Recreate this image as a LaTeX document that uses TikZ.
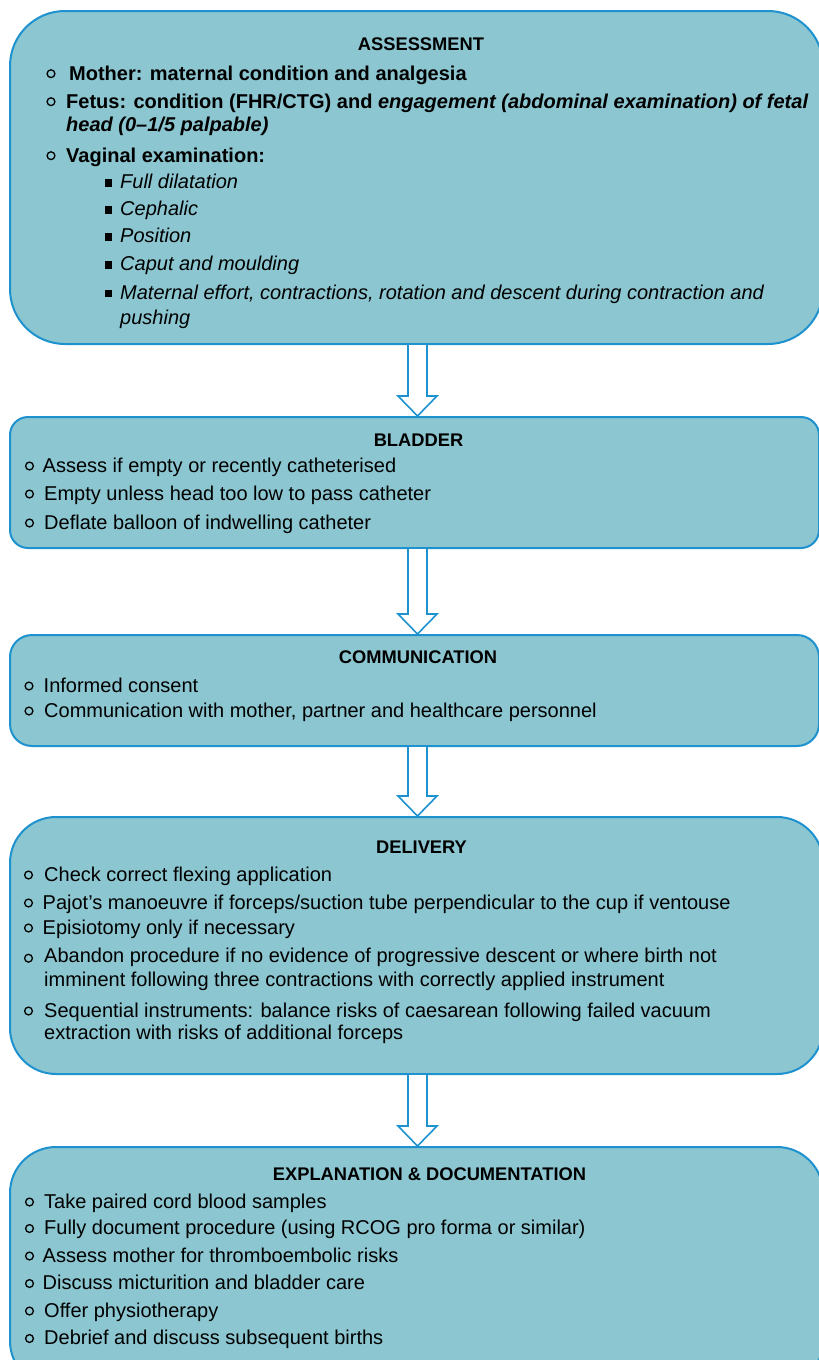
\documentclass[tikz,border=0pt]{standalone}
\usepackage{fontspec}
\setmainfont{Liberation Sans}
\usetikzlibrary{calc}
\definecolor{boxfill}{RGB}{139,198,209}
\definecolor{boxline}{RGB}{30,146,206}
\tikzset{
  box/.style={draw=boxline, fill=boxfill, line width=2pt, anchor=north west, inner sep=0pt, rectangle},
  txt/.style={anchor=base west, inner sep=0pt, font=\fontsize{20}{24}\selectfont},
  btxt/.style={anchor=base west, inner sep=0pt, font=\fontsize{20}{24}\selectfont\bfseries},
  itxt/.style={anchor=base west, inner sep=0pt, font=\fontsize{20}{24}\selectfont\itshape},
  ttl/.style={anchor=base, inner sep=0pt, font=\fontsize{18.3}{22}\selectfont\bfseries},
  cbul/.style={draw=black, line width=1.3pt},
  arr/.style={draw=boxline, fill=white, line width=1.6pt, line join=miter},
}
% #1 name, #2 bullet x, #3 bullet rise, #4 text x, #5 baseline, #6 style, #7 text
\newcommand\citem[7]{\node[#6] (#1) at (#4,#5) {#7}; \draw[cbul] (#2,#5-#3) circle[radius=3.9pt];}
% square bullet item: #1 name, #2 baseline, #3 text
\newcommand\sitem[3]{\node[itxt] (#1) at (120,#2) {#3}; \fill (104.5,#2-9.5) rectangle ++(7.5,7.5);}
\newcommand\blockarr[2]{%
  \draw[arr] ($(#1.south -| axis)+(-9.5,0)$) -- ($(#2.north -| axis)+(-9.5,-20)$) -- ++(-10,0)
    -- (#2.north -| axis) -- ($(#2.north -| axis)+(19.5,-20)$) -- ++(-10,0)
    -- ($(#1.south -| axis)+(9.5,0)$);}
\begin{document}
\begin{tikzpicture}[x=1pt,y=-1pt]
\useasboundingbox (0,0) rectangle (819,1360);
\clip (0,0) rectangle (819,1360);
\coordinate (axis) at (417.5,0);
% boxes
\node[box, rounded corners=55pt, minimum width=813pt, minimum height=333pt] (b1) at (9,10) {};
\node[box, rounded corners=18pt, minimum width=809pt, minimum height=131pt] (b2) at (9,416) {};
\node[box, rounded corners=22pt, minimum width=809pt, minimum height=111pt] (b3) at (9,634) {};
\node[box, rounded corners=46pt, minimum width=813pt, minimum height=257pt] (b4) at (9,816) {};
\node[box, rounded corners=46pt, minimum width=813pt, minimum height=240pt] (b5) at (9,1146) {};
% arrows
\blockarr{b1}{b2}
\blockarr{b2}{b3}
\blockarr{b3}{b4}
\blockarr{b4}{b5}
% box 1
\node[ttl] (t1) at (421,50) {ASSESSMENT};
\citem{a1}{51}{6.3}{69}{80}{btxt}{Mother: maternal condition and analgesia}
\citem{a2}{51}{6.3}{66}{108}{btxt}{Fetus: condition (FHR/CTG) and \textit{engagement (abdominal examination) of fetal}}
\node[btxt] (a2b) at (66,131) {\textit{head (0--1/5 palpable)}};
\citem{a3}{51}{6.3}{66}{162}{btxt}{Vaginal examination:}
\sitem{s1}{188.5}{Full dilatation}
\sitem{s2}{215.5}{Cephalic}
\sitem{s3}{242.5}{Position}
\sitem{s4}{270.5}{Caput and moulding}
\sitem{s5}{299.3}{Maternal effort, contractions, rotation and descent during contraction and}
\node[itxt] (s5b) at (120,324) {pushing};
% box 2
\node[ttl] (t2) at (418.5,446) {BLADDER};
\citem{c1}{29.5}{6}{42.5}{472}{txt}{Assess if empty or recently catheterised}
\citem{c2}{29.5}{6}{44}{500}{txt}{Empty unless head too low to pass catheter}
\citem{c3}{29.5}{6}{44}{529}{txt}{Deflate balloon of indwelling catheter}
% box 3
\node[ttl] (t3) at (418,663) {COMMUNICATION};
\citem{m1}{29}{6}{43.5}{692}{txt}{Informed consent}
\citem{m2}{29}{6}{44}{717}{txt}{Communication with mother, partner and healthcare personnel}
% box 4
\node[ttl] (t4) at (421.5,853) {DELIVERY};
\citem{d1}{28.5}{6}{44}{881}{txt}{Check correct flexing application}
\citem{d2}{28.5}{6}{42.5}{909}{txt}{Pajot’s manoeuvre if forceps/suction tube perpendicular to the cup if ventouse}
\citem{d3}{28.5}{6}{42.5}{934}{txt}{Episiotomy only if necessary}
\citem{d4}{28.5}{3.8}{44}{962}{txt}{Abandon procedure if no evidence of progressive descent or where birth not}
\node[txt] (d4b) at (44,986) {imminent following three contractions with correctly applied instrument};
\citem{d5}{28.5}{6}{44}{1017}{txt}{Sequential instruments: balance risks of caesarean following failed vacuum}
\node[txt] (d5b) at (44,1039) {extraction with risks of additional forceps};
% box 5
\node[ttl] (t5) at (429.5,1180) {EXPLANATION \& DOCUMENTATION};
\citem{e1}{29.5}{6}{44}{1208}{txt}{Take paired cord blood samples}
\citem{e2}{29.5}{6}{44}{1234.5}{txt}{Fully document procedure (using RCOG pro forma or similar)}
\citem{e3}{29.5}{6}{42.5}{1262}{txt}{Assess mother for thromboembolic risks}
\citem{e4}{29.5}{6}{42.5}{1289.5}{txt}{Discuss micturition and bladder care}
\citem{e5}{29.5}{6}{44}{1317}{txt}{Offer physiotherapy}
\citem{e6}{29.5}{6}{44}{1344.5}{txt}{Debrief and discuss subsequent births}
\end{tikzpicture}
\end{document}
